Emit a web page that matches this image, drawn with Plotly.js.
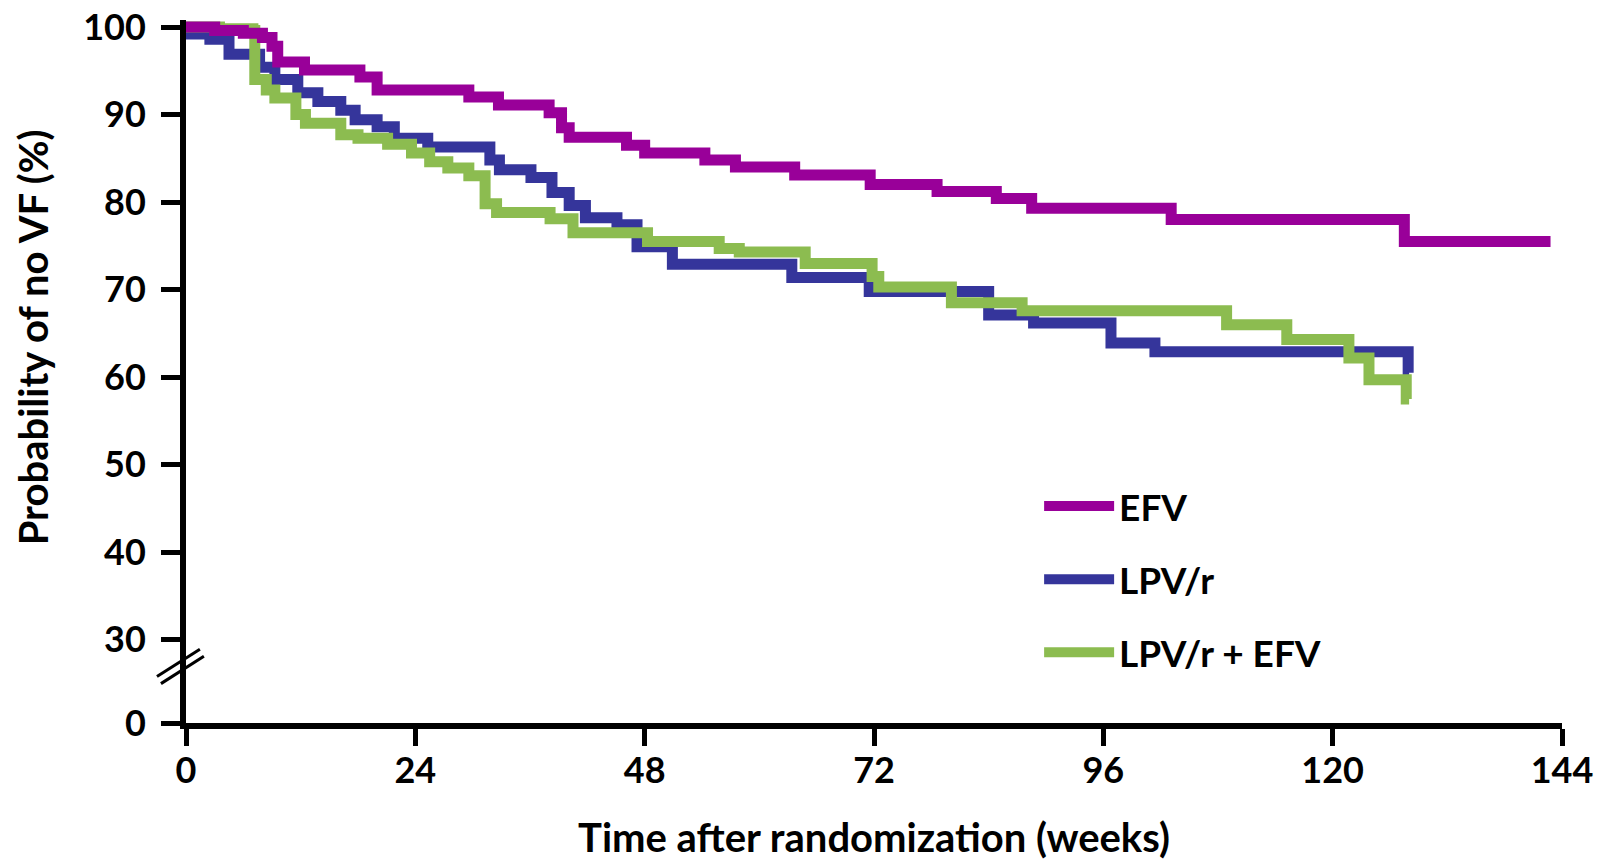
<!DOCTYPE html>
<html>
<head>
<meta charset="utf-8">
<script src="https://cdn.plot.ly/plotly-3.0.1.min.js"></script>
<style>
  html, body { margin: 0; padding: 0; background: #fff; }
  #chart { width: 1614px; height: 861px; }
</style>
</head>
<body>
<div id="chart"></div>
<script>
// ---- Data ----
const seriesNames = ["EFV", "LPV/r", "LPV/r + EFV"];

const efvWeeks = [0, 3, 6, 8, 9, 9.6, 12.4, 18.2, 20, 29.6, 32.7, 38, 39.3, 40.1, 46.1, 48, 54.3, 57.5, 63.7, 71.6, 78.6, 84.8, 88.5, 103.1, 127.5, 142.8];
const efvProb  = [100, 99.6, 99.3, 98.8, 97.8, 96.0, 95.1, 94.3, 92.8, 92.0, 91.1, 90.2, 88.5, 87.4, 86.5, 85.6, 84.8, 84.0, 83.1, 82.0, 81.2, 80.4, 79.3, 78.0, 75.5, 75.5];

const lpvWeeks = [0, 2.5, 4.5, 7.7, 9.3, 11.7, 13.8, 16.2, 17.7, 20, 21.8, 25.3, 31.8, 32.8, 36.1, 38.3, 40.1, 41.8, 45.1, 47.2, 50.9, 63.4, 71.5, 84, 88.7, 96.8, 101.4, 127.9, 128];
const lpvProb  = [99.2, 98.6, 96.9, 95.4, 94.0, 92.5, 91.5, 90.5, 89.4, 88.6, 87.3, 86.3, 84.8, 83.7, 82.8, 81.1, 79.6, 78.2, 77.4, 74.9, 72.9, 71.4, 69.8, 67.1, 66.2, 63.9, 62.9, 60.5, 60.5];

const comboWeeks = [0, 3.5, 7, 7.2, 8.4, 9.3, 11.5, 12.5, 16.2, 18, 21.1, 23.6, 25.5, 27.4, 29.6, 31.3, 32.5, 38.1, 40.5, 48.3, 55.8, 57.9, 64.8, 71.8, 72.5, 80.1, 87.5, 108.9, 115.2, 121.7, 123.8, 127.7, 128];
const comboProb  = [100, 99.8, 99.6, 94.0, 92.8, 91.9, 90.0, 89.0, 87.7, 87.3, 86.6, 85.6, 84.6, 83.9, 83.0, 79.8, 78.8, 78.1, 76.5, 75.5, 74.7, 74.3, 73.0, 71.5, 70.3, 68.5, 67.6, 66.0, 64.3, 62.2, 59.7, 57.5, 57.5];

// Broken y axis: the "0" label sits at the bottom of the axis
const yTickVals = [20.5, 30, 40, 50, 60, 70, 80, 90, 100];
const yTickText = ["0", "30", "40", "50", "60", "70", "80", "90", "100"];
const xTickVals = [0, 24, 48, 72, 96, 120, 144];
const xTickText = ["0", "24", "48", "72", "96", "120", "144"];

const colors = { efv: "#990099", lpv: "#35359b", combo: "#8cbc50" };
const FONT = "Lato, 'Open Sans', sans-serif";

const traces = [
  { x: lpvWeeks, y: lpvProb, name: seriesNames[1], legendrank: 2, legendgroup: "b",
    mode: "lines", line: { shape: "hv", color: colors.lpv, width: 11 } },
  { x: comboWeeks, y: comboProb, name: seriesNames[2], legendrank: 3, legendgroup: "c",
    mode: "lines", line: { shape: "hv", color: colors.combo, width: 11 } },
  { x: efvWeeks, y: efvProb, name: seriesNames[0], legendrank: 1, legendgroup: "a",
    mode: "lines", line: { shape: "hv", color: colors.efv, width: 11 } }
];

const layout = {
  width: 1614, height: 861,
  margin: { l: 186, r: 52, t: 20, b: 138 },
  paper_bgcolor: "#fff", plot_bgcolor: "#fff",
  font: { family: FONT, size: 36, color: "#000", weight: 700 },
  showlegend: true,
  legend: {
    x: 0.620, y: 0.352, xanchor: "left", yanchor: "top",
    font: { family: FONT, size: 37, color: "#000", weight: 700 },
    itemwidth: 70, tracegroupgap: 22, bgcolor: "rgba(0,0,0,0)"
  },
  xaxis: {
    range: [0, 144], tickvals: xTickVals, ticktext: xTickText,
    showline: true, linecolor: "#000", linewidth: 6,
    ticks: "outside", ticklen: 17, tickwidth: 5, tickcolor: "#000",
    showgrid: false, zeroline: false, ticklabelstandoff: -6,
    tickfont: { family: FONT, size: 36, weight: 700 },
    title: { text: "Time after randomization (weeks)", standoff: 37,
             font: { family: FONT, size: 40, weight: 700 } }
  },
  yaxis: {
    range: [20.5, 100.8], tickvals: yTickVals, ticktext: yTickText,
    showline: true, linecolor: "#000", linewidth: 6,
    ticks: "outside", ticklen: 19, tickwidth: 5, tickcolor: "#000",
    showgrid: false, zeroline: false, ticklabelstandoff: 8,
    tickfont: { family: FONT, size: 36, weight: 700 }
  },
  annotations: [
    { text: "Probability of no VF (%)", xref: "paper", yref: "paper",
      x: -0.111, y: 0.549, xanchor: "center", yanchor: "middle",
      textangle: -90, showarrow: false,
      font: { family: FONT, size: 40, weight: 700, color: "#000" } }
  ],
  shapes: [
    { type: "line", xref: "paper", yref: "paper", x0: -0.0211, y0: 0.0661, x1: 0.0101, y1: 0.1049,
      line: { color: "#000", width: 3 } },
    { type: "line", xref: "paper", yref: "paper", x0: -0.0182, y0: 0.056, x1: 0.0130, y1: 0.0948,
      line: { color: "#000", width: 3 } }
  ]
};

Plotly.newPlot("chart", traces, layout, { displayModeBar: false, staticPlot: true });
</script>
</body>
</html>
